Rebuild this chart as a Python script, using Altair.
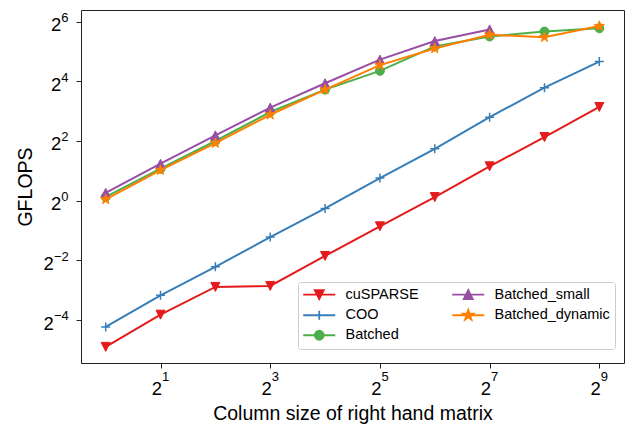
import altair as alt
import pandas as pd

# ---------------- data ----------------
x_vals = [1, 2, 4, 8, 16, 32, 64, 128, 256, 512]
cusparse = [0.0335, 0.0708, 0.135, 0.138, 0.277, 0.551, 1.087, 2.22, 4.38, 8.82]
coo = [0.0533, 0.111, 0.215, 0.429, 0.835, 1.69, 3.34, 6.96, 13.8, 25.3]
batched = [1.09, 2.10, 4.0, 7.84, 13.2, 20.4, 36.0, 45.3, 50.9, 54.9]
batched_small = [1.20, 2.36, 4.56, 8.69, 15.3, 26.5, 40.8, 53.4]
batched_dynamic = [1.03, 2.03, 3.81, 7.36, 13.2, 23.3, 34.3, 47.2, 44.6, 57.7]
series_names = ["cuSPARSE", "COO", "Batched", "Batched_small", "Batched_dynamic"]
series_values = [cusparse, coo, batched, batched_small, batched_dynamic]
x_tick_exps = [1, 3, 5, 7, 9]
y_tick_exps = [-4, -2, 0, 2, 4, 6]
x_title = "Column size of right hand matrix"
y_title = "GFLOPS"

# ---------------- styles ----------------
FONT = "Liberation Sans"
colors = {
    "cuSPARSE": "#e41a1c",
    "COO": "#377eb8",
    "Batched": "#4daf4a",
    "Batched_small": "#984ea3",
    "Batched_dynamic": "#ff7f00",
}
star = ("M0,-1.2L0.269,-0.371L1.141,-0.371L0.436,0.142L0.705,0.971L0,0.458"
        "L-0.705,0.971L-0.436,0.142L-1.141,-0.371L-0.269,-0.371Z")
markers = {
    "cuSPARSE": "M0,1L-1,-1L1,-1Z",
    "COO": "M-1,0H1M0,-1V1",
    "Batched": "M1,0A1,1,0,1,1,-1,0A1,1,0,1,1,1,0Z",
    "Batched_small": "M0,-1L-1,1L1,1Z",
    "Batched_dynamic": star,
}
filled = {"cuSPARSE": True, "COO": False, "Batched": True,
          "Batched_small": True, "Batched_dynamic": True}
LEG_LINE = "M-3.56,0H3.56"
legend_order = series_names  # vega fills legend columns top-to-bottom

W, H = 543, 353
PAD_L, PAD_T = 81, 10

rows = []
for name, vals in zip(series_names, series_values):
    for xv, yv in zip(x_vals, vals):
        rows.append({"series": name, "x": xv, "y": yv})
df = pd.DataFrame(rows)

xscale = alt.Scale(type="log", base=2, domain=[2 ** -0.45, 2 ** 9.45], nice=False)
yscale = alt.Scale(type="log", base=2, domain=[2 ** -5.44, 2 ** 6.39], nice=False)

xaxis = alt.Axis(values=[2 ** e for e in x_tick_exps], labels=False, grid=False,
                 domain=False, tickSize=5, tickWidth=1, tickColor="#222",
                 title=x_title, titleFont=FONT, titleFontSize=19.5,
                 titleFontWeight="normal", titleColor="black",
                 titleX=W / 2, titleY=56.8, titleAlign="center",
                 titleBaseline="alphabetic")
yaxis = alt.Axis(values=[2 ** e for e in y_tick_exps], labels=False, grid=False,
                 domain=False, tickSize=5, tickWidth=1, tickColor="#222",
                 title=y_title, titleFont=FONT, titleFontSize=19.5,
                 titleFontWeight="normal", titleColor="black",
                 titleX=31.5 - PAD_L, titleY=H / 2, titleAlign="center",
                 titleBaseline="alphabetic", titleAngle=270)

X = alt.X("x:Q", scale=xscale, axis=xaxis)
Y = alt.Y("y:Q", scale=yscale, axis=yaxis)

layers = []
base = alt.Chart(df)
for name in series_names:
    c = colors[name]
    sub = base.transform_filter(alt.datum.series == name)
    layers.append(sub.mark_line(color=c, strokeWidth=2).encode(x=X, y=Y))
    if filled[name]:
        pm = sub.mark_point(shape=markers[name], filled=True, fill=c, stroke=c,
                            strokeWidth=1, size=81, opacity=1)
    else:
        pm = sub.mark_point(shape=markers[name], filled=False, stroke=c,
                            strokeWidth=1.5, size=81, opacity=1)
    layers.append(pm.encode(x=X, y=Y))

# tick labels (2 with superscript exponent)
xt = pd.DataFrame({"e": x_tick_exps})
yt = pd.DataFrame({"e": y_tick_exps})
xcalc = dict(v="pow(2, datum.e)", s="replace(toString(datum.e), '-', '\u2212')")
ycalc = dict(v="pow(2, datum.e)", s="replace(toString(datum.e), '-', '\u2212')",
             lx="-12.5 - 7.3 * length(datum.s)")

layers.append(alt.Chart(xt).transform_calculate(**xcalc).mark_text(
    text="2", align="right", baseline="alphabetic", font=FONT, fontSize=18.5,
    dx=1.5, color="black").encode(
    x=alt.X("v:Q", scale=xscale, axis=xaxis), y=alt.value(H + 32.3)))
layers.append(alt.Chart(xt).transform_calculate(**xcalc).mark_text(
    align="left", baseline="alphabetic", font=FONT, fontSize=13,
    dx=1.5, color="black").encode(
    x=alt.X("v:Q", scale=xscale, axis=xaxis), y=alt.value(H + 18.3),
    text="s:N"))
layers.append(alt.Chart(yt).transform_calculate(**ycalc).mark_text(
    text="2", align="right", baseline="alphabetic", font=FONT, fontSize=18.5,
    dy=9.5, color="black").encode(
    x=alt.X("lx:Q", scale=None), y=alt.Y("v:Q", scale=yscale, axis=yaxis)))
layers.append(alt.Chart(yt).transform_calculate(**ycalc).mark_text(
    align="left", baseline="alphabetic", font=FONT, fontSize=13,
    dy=0.4, color="black").encode(
    x=alt.X("lx:Q", scale=None), y=alt.Y("v:Q", scale=yscale, axis=yaxis),
    text="s:N"))

# legend layer (no marks drawn, only the legend)
leg = alt.Legend(title=None, orient="none", legendX=217, legendY=272, columns=2,
                 padding=5, rowPadding=3, columnPadding=29, symbolOffset=9,
                 labelOffset=19, labelFont=FONT, labelFontSize=14.5,
                 labelColor="black", fillColor="rgba(255,255,255,0.8)",
                 strokeColor="#cccccc", cornerRadius=3, symbolSize=81,
                 symbolStrokeWidth=1.8, symbolOpacity=1)
cscale = alt.Scale(domain=legend_order, range=[colors[n] for n in legend_order])
sscale = alt.Scale(domain=legend_order,
                   range=[LEG_LINE + markers[n] for n in legend_order])
layers.append(alt.Chart(df).transform_filter("false").mark_point(
    filled=True, size=81, opacity=1, strokeWidth=1.8).encode(
    color=alt.Color("series:N", scale=cscale, legend=leg),
    stroke=alt.Stroke("series:N", scale=cscale, legend=leg),
    shape=alt.Shape("series:N", scale=sscale, legend=leg)))

chart = alt.layer(*layers).properties(
    width=W, height=H,
    padding={"left": PAD_L, "top": PAD_T, "right": 628 - PAD_L - W, "bottom": 425 - PAD_T - H},
    autosize=alt.AutoSizeParams(type="none"),
    background="white",
).configure_view(stroke="#222", strokeWidth=1)

chart.save("out.html", embed_options={"renderer": "svg", "actions": False})
